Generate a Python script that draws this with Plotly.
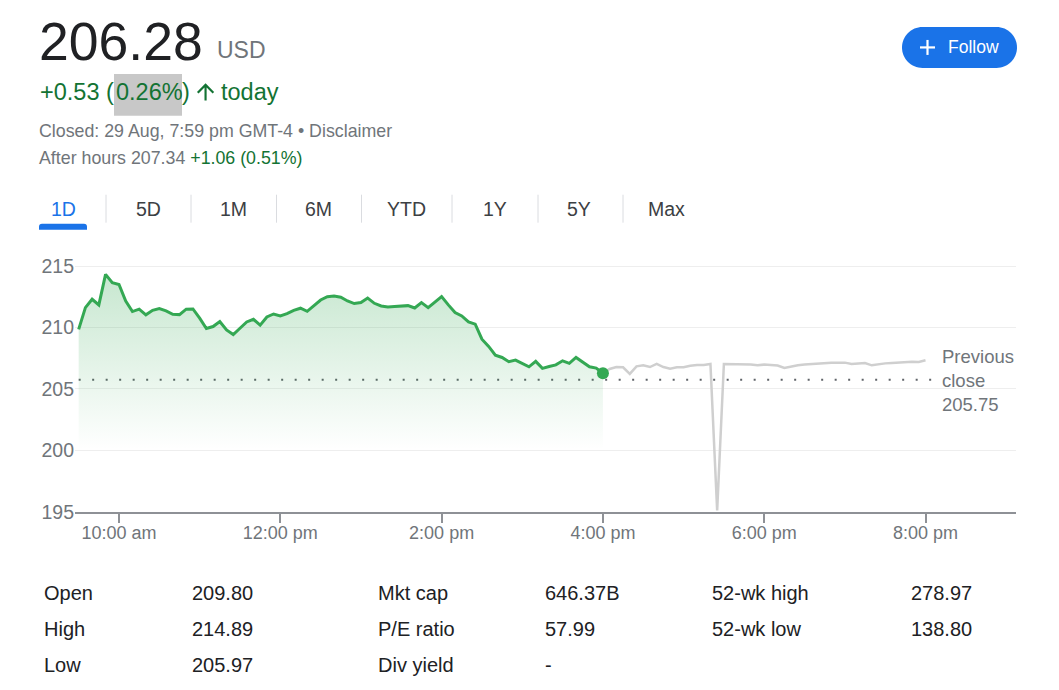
import pandas as pd
import plotly.graph_objects as go

# ---------------- data ----------------
DAY = "2024-08-29"
reg_prices = [
    209.85, 211.62, 212.30, 211.84, 214.33, 213.65, 213.50, 212.16, 211.30, 211.49,
    211.03, 211.40, 211.54, 211.35, 211.08, 211.05, 211.49, 211.51, 210.76, 209.92,
    210.08, 210.49, 209.80, 209.43, 209.94, 210.45, 210.67, 210.19, 210.86, 211.10,
    210.94, 211.13, 211.40, 211.57, 211.32, 211.75, 212.24, 212.51, 212.56, 212.46,
    212.16, 211.95, 212.03, 212.40, 211.97, 211.75, 211.67, 211.70, 211.75, 211.78,
    211.59, 212.03, 211.62, 212.03, 212.51, 211.84, 211.22, 210.94, 210.45, 210.27,
    209.05, 208.46, 207.75, 207.56, 207.22, 207.35, 207.05, 206.80, 207.24, 206.67,
    206.83, 206.96, 207.29, 207.08, 207.56, 207.16, 206.80, 206.70, 206.28,
]
ah_prices = [
    206.28, 206.62, 206.78, 206.76, 206.22, 206.84, 206.92, 206.78, 207.03, 206.78,
    206.65, 206.76, 206.76, 206.89, 206.95, 206.95, 207.03, 195.10, 207.03, 207.03,
    207.03, 206.98, 206.98, 206.92, 206.98, 206.95, 206.90, 206.70, 206.84, 206.92,
    206.98, 207.03, 207.03, 207.11, 207.14, 207.14, 207.14, 207.03, 207.08, 207.11,
    206.92, 207.03, 207.08, 207.11, 207.16, 207.19, 207.22, 207.19, 207.34,
]
reg_times = pd.date_range(f"{DAY} 09:30", periods=len(reg_prices), freq="5min")
ah_times = pd.date_range(f"{DAY} 16:00", periods=len(ah_prices), freq="5min")
prev_close = 205.75
prev_close_span = [f"{DAY} 09:30", f"{DAY} 20:06"]
last_price_time = [f"{DAY} 16:00"]
last_price = [206.28]

x_tick_vals = [f"{DAY} {h}:00" for h in ("10", "12", "14", "16", "18", "20")]
x_tick_text = ["10:00 am", "12:00 pm", "2:00 pm", "4:00 pm", "6:00 pm", "8:00 pm"]
y_tick_vals = [195, 200, 205, 210, 215]

price_text = "206.28"
currency = "USD"
change_text = "+0.53 ("
pct_text = "0.26%"
status_text = "Closed: 29 Aug, 7:59 pm GMT-4 • Disclaimer"
after_hours_text = "After hours 207.34 "
after_hours_change = "+1.06 (0.51%)"
tabs = ["1D", "5D", "1M", "6M", "YTD", "1Y", "5Y", "Max"]
stats_cols = [
    (["Open", "High", "Low"], ["209.80", "214.89", "205.97"]),
    (["Mkt cap", "P/E ratio", "Div yield"], ["646.37B", "57.99", "-"]),
    (["52-wk high", "52-wk low"], ["278.97", "138.80"]),
]

# ---------------- styling ----------------
W, H = 1059, 690
H_EFF = 680  # rendered paper height observed in the output
FONT = "Liberation Sans, Arial, sans-serif"
GREEN = "#34a853"
GREEN_TXT = "#137333"
GREY_TXT = "#70757a"
DARK = "#202124"
BLUE = "#1a73e8"


def px(x):
    return x / W


def py(y):
    return 1 - y / H_EFF


def label(x, y, s, size, color, anchor="left", **kw):
    return dict(x=px(x), y=py(y), xref="paper", yref="paper", text=s, showarrow=False,
                xanchor=anchor, yanchor="middle", borderpad=0,
                font=dict(size=size, color=color, family=FONT), **kw)


fig = go.Figure()

# previous close dotted line
fig.add_trace(go.Scatter(x=prev_close_span, y=[prev_close, prev_close], mode="lines",
                         line=dict(color="#5f6368", width=2, dash="2px,11.5px"),
                         hoverinfo="skip", showlegend=False))
# regular session with gradient fill
fig.add_trace(go.Scatter(x=reg_times, y=reg_prices, mode="lines",
                         line=dict(color=GREEN, width=3),
                         fill="tozeroy",
                         fillgradient=dict(type="vertical", start=200.3, stop=214.5,
                                           colorscale=[[0, "rgba(52,168,83,0)"],
                                                       [1, "rgba(52,168,83,0.28)"]]),
                         showlegend=False))
# after hours
fig.add_trace(go.Scatter(x=ah_times, y=ah_prices, mode="lines",
                         line=dict(color="#cfcfcf", width=2.5), showlegend=False))
# close marker
fig.add_trace(go.Scatter(x=last_price_time, y=last_price, mode="markers",
                         marker=dict(color=GREEN, size=12), showlegend=False))

annotations = []
shapes = []

# header
annotations.append(label(38, 42, price_text, 53.5, DARK))
annotations.append(label(216, 50.5, currency, 23, GREY_TXT))
shapes.append(dict(type="rect", xref="paper", yref="paper", x0=px(114), x1=px(182),
                   y0=py(116), y1=py(74), fillcolor="#c8c8c8", line=dict(width=0), layer="below"))
annotations.append(label(39, 92, change_text, 23.5, GREEN_TXT))
annotations.append(label(115, 92, pct_text, 23.5, GREEN_TXT))
annotations.append(label(181, 92, ")", 23.5, GREEN_TXT))
annotations.append(label(220, 92, "today", 23.5, GREEN_TXT))

# up arrow (material style), in pixel units
arrow_pts = [(4, 12), (5.41, 13.41), (11, 7.83), (11, 20), (13, 20), (13, 7.83),
             (18.58, 13.42), (20, 12), (12, 4)]
s = 1.07
pts = [(197 + (u - 4) * s, 83.5 + (v - 4) * s) for u, v in arrow_pts]
arrow_path = "M " + " L ".join(f"{px(a):.5f},{py(b):.5f}" for a, b in pts) + " Z"
shapes.append(dict(type="path", xref="paper", yref="paper", path=arrow_path,
                   fillcolor=GREEN_TXT, line=dict(width=0)))

annotations.append(label(38, 131.5, status_text, 17.8, GREY_TXT))
annotations.append(label(38, 158.5, after_hours_text +
                         f"<span style='color:{GREEN_TXT}'>{after_hours_change}</span>",
                         17.8, GREY_TXT))


# Follow button (pill)
def pill(x0, y0, x1, y1):
    r = (y1 - y0) / 2
    k = 0.5523 * r
    ym = y0 + r
    P = lambda a, b: f"{px(a):.5f},{py(b):.5f}"
    return (f"M {P(x0 + r, y0)} L {P(x1 - r, y0)} "
            f"C {P(x1 - r + k, y0)} {P(x1, ym - k)} {P(x1, ym)} "
            f"C {P(x1, ym + k)} {P(x1 - r + k, y1)} {P(x1 - r, y1)} "
            f"L {P(x0 + r, y1)} "
            f"C {P(x0 + r - k, y1)} {P(x0, ym + k)} {P(x0, ym)} "
            f"C {P(x0, ym - k)} {P(x0 + r - k, y0)} {P(x0 + r, y0)} Z")


shapes.append(dict(type="path", xref="paper", yref="paper", path=pill(902, 27, 1017, 68),
                   fillcolor=BLUE, line=dict(width=0)))
shapes.append(dict(type="line", xref="paper", yref="paper", x0=px(920), x1=px(935),
                   y0=py(47.5), y1=py(47.5), line=dict(color="white", width=2.2)))
shapes.append(dict(type="line", xref="paper", yref="paper", x0=px(927.5), x1=px(927.5),
                   y0=py(40), y1=py(55), line=dict(color="white", width=2.2)))
annotations.append(label(947, 47, "Follow", 17.5, "white"))

# tabs
tab_centers = [63.5, 148, 233, 318, 406.5, 494.5, 579, 666.5]
tab_seps = [106, 191, 276.5, 361.5, 452, 538, 623]
for i, (t, cx) in enumerate(zip(tabs, tab_centers)):
    annotations.append(label(cx, 209, t, 19.5, BLUE if i == 0 else "#3c4043", anchor="center"))
for sx in tab_seps:
    shapes.append(dict(type="line", xref="paper", yref="paper", x0=px(sx), x1=px(sx),
                       y0=py(195), y1=py(223), line=dict(color="#dadce0", width=1)))


def tab_underline(x0, y0, x1, y1, r=3):
    P = lambda a, b: f"{px(a):.5f},{py(b):.5f}"
    return (f"M {P(x0, y1)} L {P(x0, y0 + r)} Q {P(x0, y0)} {P(x0 + r, y0)} "
            f"L {P(x1 - r, y0)} Q {P(x1, y0)} {P(x1, y0 + r)} L {P(x1, y1)} Z")


shapes.append(dict(type="path", xref="paper", yref="paper", path=tab_underline(39, 224, 87, 230),
                   fillcolor=BLUE, line=dict(width=0)))

# previous close label
annotations.append(label(941, 381, f"Previous<br>close<br>{prev_close:.2f}", 18.5, GREY_TXT,
                         align="left"))

# stats
col_x = [(43, 191), (377, 544), (711, 910)]
row_y = [593.5, 629.5, 665.5]
for (labels_, values_), (lx, vx) in zip(stats_cols, col_x):
    for j, (lab, val) in enumerate(zip(labels_, values_)):
        annotations.append(label(lx, row_y[j], lab, 20, DARK))
        annotations.append(label(vx, row_y[j], val, 20, DARK))

fig.update_layout(
    width=W, height=H, margin=dict(l=0, r=0, t=0, b=0),
    paper_bgcolor="white", plot_bgcolor="white",
    font=dict(family=FONT, color=GREY_TXT),
    showlegend=False, hovermode=False,
    annotations=annotations, shapes=shapes,
    xaxis=dict(domain=[px(75), px(1016)], type="date",
               range=[f"{DAY} 09:27:16", f"{DAY} 21:07:19"],
               tickvals=x_tick_vals, ticktext=x_tick_text,
               showgrid=False, zeroline=False,
               showline=True, linecolor="#8e9196", linewidth=2,
               ticks="outside", ticklen=9, tickwidth=1.5, tickcolor="#8e9196",
               ticklabelstandoff=-5,
               tickfont=dict(size=18, color=GREY_TXT, family=FONT)),
    yaxis=dict(domain=[py(512.5), py(250)], range=[195, 216.34],
               tickvals=y_tick_vals, showgrid=True, gridcolor="#eeeeee", gridwidth=1,
               zeroline=False, showline=False, ticks="",
               tickfont=dict(size=19.5, color=GREY_TXT, family=FONT)),
)

fig.write_html("out.html")
